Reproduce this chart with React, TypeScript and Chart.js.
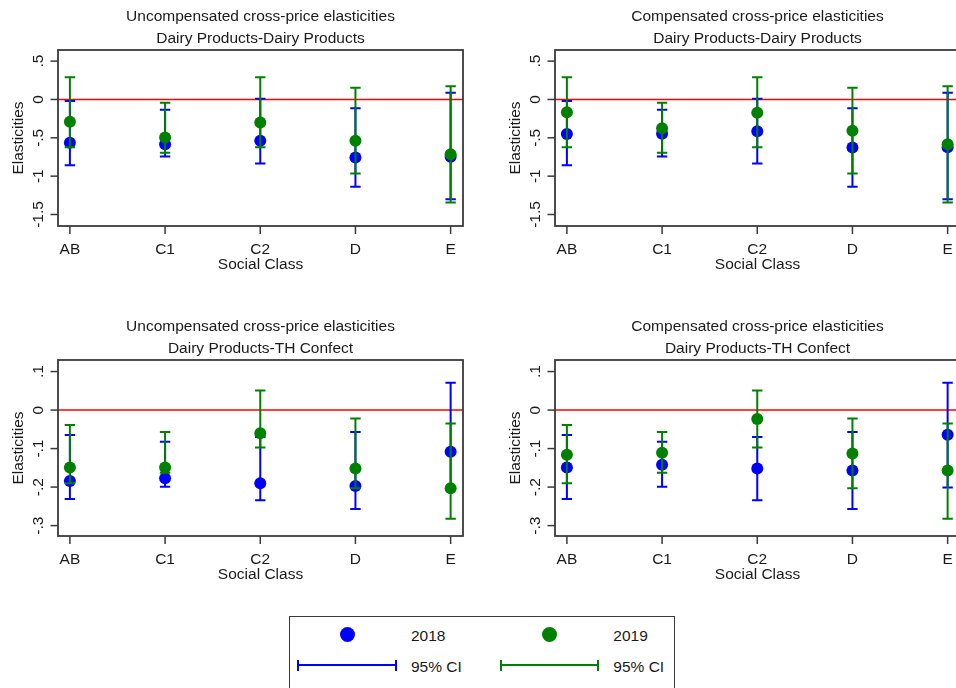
import React, { useEffect, useRef } from "react";
import { Chart, registerables } from "chart.js";

Chart.register(...registerables);

// ---------- data ----------
const categories = ["AB", "C1", "C2", "D", "E"];

// Dairy Products - Dairy Products
const ddTicks = [0.5, 0, -0.5, -1, -1.5];
const ddTickLabels = [".5", "0", "-.5", "-1", "-1.5"];
const ddCi2018Low = [-0.858, -0.743, -0.835, -1.139, -1.302];
const ddCi2018High = [-0.02, -0.135, 0.009, -0.113, 0.087];
const ddCi2019Low = [-0.622, -0.696, -0.622, -0.965, -1.343];
const ddCi2019High = [0.289, -0.043, 0.291, 0.152, 0.172];
const ddUnc2018 = [-0.565, -0.583, -0.539, -0.757, -0.748];
const ddUnc2019 = [-0.29, -0.496, -0.3, -0.539, -0.715];
const ddComp2018 = [-0.45, -0.448, -0.413, -0.626, -0.622];
const ddComp2019 = [-0.167, -0.374, -0.174, -0.409, -0.583];

// Dairy Products - TH Confect
const thTicks = [0.1, 0, -0.1, -0.2, -0.3];
const thTickLabels = [".1", "0", "-.1", "-.2", "-.3"];
const thCi2018Low = [-0.231, -0.199, -0.234, -0.257, -0.201];
const thCi2018High = [-0.065, -0.082, -0.07, -0.057, 0.071];
const thCi2019Low = [-0.19, -0.163, -0.097, -0.203, -0.282];
const thCi2019High = [-0.039, -0.057, 0.051, -0.022, -0.035];
const thUnc2018 = [-0.184, -0.177, -0.19, -0.197, -0.108];
const thUnc2019 = [-0.149, -0.149, -0.06, -0.152, -0.203];
const thComp2018 = [-0.149, -0.142, -0.152, -0.157, -0.064];
const thComp2019 = [-0.116, -0.111, -0.023, -0.113, -0.157];

const legendLabels = ["2018", "2019", "95% CI", "95% CI"];

// ---------- styles ----------
const BLUE = "#0000ff";
const GREEN = "#008000";
const FONT = '15.5px "Liberation Sans", Arial, sans-serif';
const TEXT = "#1a1a1a";
const FRAME = "#3a3a3a";

const stataPlugin = {
  id: "stata",
  beforeDatasetsDraw(chart: any) {
    const { ctx, chartArea: a, scales } = chart;
    const y0 = scales.y.getPixelForValue(0);
    ctx.save();
    ctx.strokeStyle = "#ff0000";
    ctx.lineWidth = 1.5;
    ctx.beginPath();
    ctx.moveTo(a.left, y0);
    ctx.lineTo(a.right, y0);
    ctx.stroke();
    ctx.restore();
  },
  beforeDatasetDraw(chart: any, args: any) {
    const ds = chart.data.datasets[args.index];
    const { ctx, scales } = chart;
    ctx.save();
    ctx.strokeStyle = ds.ciColor;
    ctx.lineWidth = 2;
    ds.ciLow.forEach((lo: number, i: number) => {
      const x = scales.x.getPixelForValue(i);
      const yl = scales.y.getPixelForValue(lo);
      const yh = scales.y.getPixelForValue(ds.ciHigh[i]);
      ctx.beginPath();
      ctx.moveTo(x, yl);
      ctx.lineTo(x, yh);
      ctx.moveTo(x - 5.2, yl);
      ctx.lineTo(x + 5.2, yl);
      ctx.moveTo(x - 5.2, yh);
      ctx.lineTo(x + 5.2, yh);
      ctx.stroke();
    });
    ctx.restore();
  },
  afterDraw(chart: any, _args: any, opts: any) {
    const { ctx, chartArea: a, scales } = chart;
    const cx = (a.left + a.right) / 2;
    ctx.save();
    // frame
    ctx.strokeStyle = FRAME;
    ctx.lineWidth = 1.8;
    ctx.strokeRect(a.left, a.top, a.right - a.left, a.bottom - a.top);
    // x ticks
    ctx.lineWidth = 1.5;
    ctx.font = FONT;
    ctx.fillStyle = TEXT;
    ctx.textAlign = "center";
    ctx.textBaseline = "alphabetic";
    opts.categories.forEach((c: string, i: number) => {
      const x = scales.x.getPixelForValue(i);
      ctx.beginPath();
      ctx.moveTo(x, a.bottom);
      ctx.lineTo(x, a.bottom + 8);
      ctx.stroke();
      ctx.fillText(c, x, a.bottom + 27.5);
    });
    ctx.fillText("Social Class", cx, a.bottom + 43);
    // titles
    ctx.fillText(opts.title1, cx, a.top - 29.3);
    ctx.fillText(opts.title2, cx, a.top - 7.3);
    // y ticks
    opts.yTicks.forEach((v: number, i: number) => {
      const y = scales.y.getPixelForValue(v);
      ctx.beginPath();
      ctx.moveTo(a.left - 7.5, y);
      ctx.lineTo(a.left, y);
      ctx.stroke();
      ctx.save();
      ctx.translate(a.left - 15, y);
      ctx.rotate(-Math.PI / 2);
      ctx.fillText(opts.yLabels[i], 0, 0);
      ctx.restore();
    });
    ctx.save();
    ctx.translate(a.left - 35, (a.top + a.bottom) / 2);
    ctx.rotate(-Math.PI / 2);
    ctx.fillText("Elasticities", 0, 0);
    ctx.restore();
    ctx.restore();
  },
};

type PanelProps = {
  left: number;
  top: number;
  title1: string;
  title2: string;
  v2018: number[];
  v2019: number[];
  lo2018: number[];
  hi2018: number[];
  lo2019: number[];
  hi2019: number[];
  yMin: number;
  yMax: number;
  yTicks: number[];
  yLabels: string[];
};

function Panel(p: PanelProps) {
  const ref = useRef<HTMLCanvasElement | null>(null);
  useEffect(() => {
    if (!ref.current) return;
    const chart = new Chart(ref.current, {
      type: "scatter",
      data: {
        datasets: [
          {
            label: "2019",
            data: p.v2019.map((v, i) => ({ x: i, y: v })),
            backgroundColor: GREEN,
            borderColor: GREEN,
            borderWidth: 0,
            pointRadius: 6,
            ciLow: p.lo2019,
            ciHigh: p.hi2019,
            ciColor: GREEN,
          } as any,
          {
            label: "2018",
            data: p.v2018.map((v, i) => ({ x: i, y: v })),
            backgroundColor: BLUE,
            borderColor: BLUE,
            borderWidth: 0,
            pointRadius: 6,
            ciLow: p.lo2018,
            ciHigh: p.hi2018,
            ciColor: BLUE,
          } as any,
        ],
      },
      options: {
        animation: false,
        responsive: false,
        events: [],
        layout: { padding: { left: 58, top: 50, right: 17, bottom: 74 } },
        scales: {
          x: { type: "linear", min: -0.125, max: 4.13, display: false },
          y: { type: "linear", min: p.yMin, max: p.yMax, display: false },
        },
        plugins: {
          legend: { display: false },
          tooltip: { enabled: false },
          stata: {
            categories,
            title1: p.title1,
            title2: p.title2,
            yTicks: p.yTicks,
            yLabels: p.yLabels,
          },
        } as any,
      },
      plugins: [stataPlugin as any],
    });
    return () => chart.destroy();
  }, []);
  return (
    <canvas
      ref={ref}
      width={480}
      height={300}
      style={{ position: "absolute", left: p.left, top: p.top, width: 480, height: 300 }}
    />
  );
}

const textStyle: React.CSSProperties = {
  position: "absolute",
  font: FONT,
  color: TEXT,
  lineHeight: "17px",
  whiteSpace: "nowrap",
};

function Dot({ x, y, color }: { x: number; y: number; color: string }) {
  return (
    <div
      style={{
        position: "absolute",
        left: x - 7.5,
        top: y - 7.5,
        width: 15,
        height: 15,
        borderRadius: "50%",
        background: color,
      }}
    />
  );
}

function CiSym({ x1, x2, y, color }: { x1: number; x2: number; y: number; color: string }) {
  return (
    <>
      <div style={{ position: "absolute", left: x1, top: y - 1, width: x2 - x1, height: 2, background: color }} />
      <div style={{ position: "absolute", left: x1 - 1, top: y - 5.5, width: 2, height: 11, background: color }} />
      <div style={{ position: "absolute", left: x2 - 1, top: y - 5.5, width: 2, height: 11, background: color }} />
    </>
  );
}

export default function App() {
  return (
    <div
      style={{
        position: "absolute",
        left: 0,
        top: 0,
        width: 956,
        height: 688,
        overflow: "hidden",
        background: "#ffffff",
      }}
    >
      <Panel
        left={0}
        top={0}
        title1="Uncompensated cross-price elasticities"
        title2="Dairy Products-Dairy Products"
        v2018={ddUnc2018}
        v2019={ddUnc2019}
        lo2018={ddCi2018Low}
        hi2018={ddCi2018High}
        lo2019={ddCi2019Low}
        hi2019={ddCi2019High}
        yMin={-1.65}
        yMax={0.645}
        yTicks={ddTicks}
        yLabels={ddTickLabels}
      />
      <Panel
        left={497}
        top={0}
        title1="Compensated cross-price elasticities"
        title2="Dairy Products-Dairy Products"
        v2018={ddComp2018}
        v2019={ddComp2019}
        lo2018={ddCi2018Low}
        hi2018={ddCi2018High}
        lo2019={ddCi2019Low}
        hi2019={ddCi2019High}
        yMin={-1.65}
        yMax={0.645}
        yTicks={ddTicks}
        yLabels={ddTickLabels}
      />
      <Panel
        left={0}
        top={310}
        title1="Uncompensated cross-price elasticities"
        title2="Dairy Products-TH Confect"
        v2018={thUnc2018}
        v2019={thUnc2019}
        lo2018={thCi2018Low}
        hi2018={thCi2018High}
        lo2019={thCi2019Low}
        hi2019={thCi2019High}
        yMin={-0.327}
        yMax={0.13}
        yTicks={thTicks}
        yLabels={thTickLabels}
      />
      <Panel
        left={497}
        top={310}
        title1="Compensated cross-price elasticities"
        title2="Dairy Products-TH Confect"
        v2018={thComp2018}
        v2019={thComp2019}
        lo2018={thCi2018Low}
        hi2018={thCi2018High}
        lo2019={thCi2019Low}
        hi2019={thCi2019High}
        yMin={-0.327}
        yMax={0.13}
        yTicks={thTicks}
        yLabels={thTickLabels}
      />
      {/* legend */}
      <div
        style={{
          position: "absolute",
          left: 289,
          top: 616,
          width: 386,
          height: 90,
          border: "1.5px solid " + FRAME,
          boxSizing: "border-box",
        }}
      />
      <Dot x={347.7} y={634.3} color={BLUE} />
      <Dot x={549.3} y={634.3} color={GREEN} />
      <div style={{ ...textStyle, left: 411, top: 640 - 13.5 }}>{legendLabels[0]}</div>
      <div style={{ ...textStyle, left: 613.3, top: 640 - 13.5 }}>{legendLabels[1]}</div>
      <CiSym x1={298.3} x2={396.3} y={665.3} color={BLUE} />
      <CiSym x1={500.7} x2={598.3} y={665.3} color={GREEN} />
      <div style={{ ...textStyle, left: 411, top: 671 - 13.5 }}>{legendLabels[2]}</div>
      <div style={{ ...textStyle, left: 613.3, top: 671 - 13.5 }}>{legendLabels[3]}</div>
    </div>
  );
}
